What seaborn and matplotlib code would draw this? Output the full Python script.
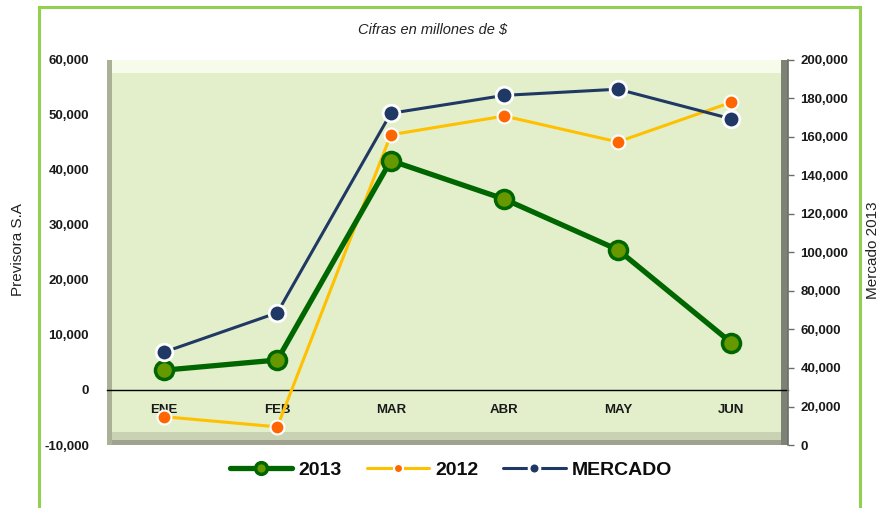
import numpy as np
import pandas as pd
import matplotlib
matplotlib.use("Agg")
import matplotlib.pyplot as plt
from matplotlib.patches import Rectangle
from matplotlib.ticker import FuncFormatter
import seaborn as sns

# --- datos (cifras en millones de $) ---
meses = ["ENE", "FEB", "MAR", "ABR", "MAY", "JUN"]
previsora_2013 = [3600, 5450, 41700, 34700, 25500, 8600]
previsora_2012 = [-4850, -6700, 46400, 49800, 45100, 52300]
mercado_2013 = [48200, 68700, 172300, 181600, 184800, 169400]
ticks_izq = np.arange(-10000, 60001, 10000)
ticks_der = np.arange(0, 200001, 20000)

df = pd.DataFrame({"mes": meses, "v2013": previsora_2013,
                   "v2012": previsora_2012, "mercado": mercado_2013})

sns.set_style("white")
plt.rcParams["font.family"] = ["Liberation Sans", "DejaVu Sans"]

fig = plt.figure(figsize=(8.81, 5.08), dpi=100)
ax = fig.add_axes([0.1215, 0.124, 0.773, 0.758])
ax2 = ax.twinx()

# fondo del area de trazado con bisel
ax.set_facecolor("#e2efca")
ax.add_patch(Rectangle((0, 0.965), 1, 0.035, transform=ax.transAxes,
                       color="#f6fbea", zorder=0.5, lw=0))
ax.add_patch(Rectangle((0, 0.012), 1, 0.022, transform=ax.transAxes,
                       color="#c9d2b2", zorder=0.5, lw=0))
ax.add_patch(Rectangle((0, 0), 1, 0.012, transform=ax.transAxes,
                       color="#9ea28f", zorder=0.5, lw=0))
ax.add_patch(Rectangle((0, 0), 0.007, 1, transform=ax.transAxes,
                       color="#a9b196", zorder=0.5, lw=0))
ax.add_patch(Rectangle((0.989, 0), 0.011, 1, transform=ax.transAxes,
                       color="#7d8176", zorder=0.5, lw=0))

# --- series ---
sns.lineplot(data=df, x="mes", y="v2012", ax=ax, sort=False, legend=False,
             color="#ffc000", lw=2.2, marker="o", markersize=10,
             markerfacecolor="#ff6600", markeredgecolor="white",
             markeredgewidth=1.5, label="2012", zorder=3)
sns.lineplot(data=df, x="mes", y="v2013", ax=ax, sort=False, legend=False,
             color="#006600", lw=3.8, marker="o", markersize=13,
             markerfacecolor="#669900", markeredgecolor="#006600",
             markeredgewidth=2.5, label="2013", zorder=4)
sns.lineplot(data=df, x="mes", y="mercado", ax=ax2, sort=False, legend=False,
             color="#1f3864", lw=2.2, marker="o", markersize=12,
             markerfacecolor="#1f3864", markeredgecolor="white",
             markeredgewidth=2, label="MERCADO", zorder=5)

# --- ejes ---
ax.set_xlim(-0.5, 5.5)
ax.set_ylim(-10000, 60000)
ax2.set_ylim(0, 200000)
fmt = FuncFormatter(lambda v, p: f"{v:,.0f}")
ax.set_yticks(ticks_izq)
ax.yaxis.set_major_formatter(fmt)
ax2.set_yticks(ticks_der)
ax2.yaxis.set_major_formatter(fmt)

for s in ["top", "right", "left"]:
    ax.spines[s].set_visible(False)
ax.spines["bottom"].set_position(("data", 0))
ax.spines["bottom"].set_color("black")
ax.spines["bottom"].set_linewidth(1)
ax.spines["bottom"].set_zorder(2)
for s in ["top", "left", "bottom"]:
    ax2.spines[s].set_visible(False)
ax2.spines["right"].set_color("#6b6f66")
ax2.spines["right"].set_linewidth(1.2)
ax2.patch.set_visible(False)

ax.tick_params(axis="x", length=0, pad=10, labelsize=9.5, labelcolor="#1a1a1a")
ax.tick_params(axis="y", length=0, pad=13, labelsize=9.5, labelcolor="#1a1a1a")
ax2.tick_params(axis="y", length=4, width=1, color="#6b6f66", direction="out",
                pad=5, labelsize=9.5, labelcolor="#1a1a1a")
for lbl in ax.get_xticklabels() + ax.get_yticklabels() + ax2.get_yticklabels():
    lbl.set_fontweight("bold")
ax.set_xlabel("")
ax.set_ylabel("")
ax2.set_ylabel("")

# --- textos ---
fig.text(433 / 881, 1 - 30 / 508, "Cifras en millones de $", ha="center",
         va="center", fontsize=10.5, style="italic", color="#222222")
fig.text(18 / 881, 1 - 250 / 508, "Previsora S.A", rotation=90, ha="center",
         va="center", fontsize=11, color="#222222")
fig.text(873 / 881, 1 - 250 / 508, "Mercado 2013", rotation=90, ha="center",
         va="center", fontsize=11, color="#222222")

# --- leyenda ---
h1, l1 = ax.get_legend_handles_labels()
h2, l2 = ax2.get_legend_handles_labels()
orden = {"2013": 0, "2012": 1, "MERCADO": 2}
pares = sorted(zip(h1 + h2, l1 + l2), key=lambda t: orden[t[1]])
leg = fig.legend([p[0] for p in pares], [p[1] for p in pares], loc="center",
                 bbox_to_anchor=(451 / 881, 1 - 470 / 508), ncol=3,
                 frameon=False, prop=dict(weight="bold", size=14),
                 handlelength=3.2, columnspacing=1.3, handletextpad=0.3,
                 markerscale=0.65)
for t in leg.get_texts():
    t.set_color("#0d0d0d")

# marco verde exterior
fig.patches.append(Rectangle((39 / 881, -0.05), 821 / 881, 1.05 - 7 / 508,
                             transform=fig.transFigure, fill=False,
                             edgecolor="#92d050", lw=2.2))

fig.savefig("out.png", dpi=100)
